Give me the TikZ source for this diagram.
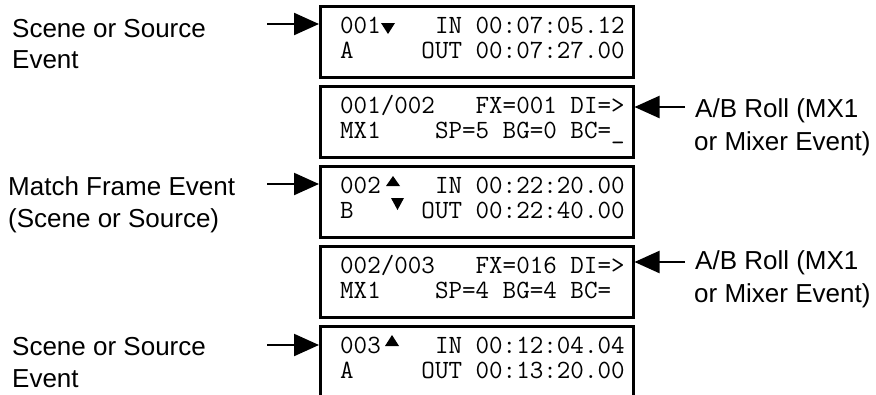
\documentclass[tikz,border=0pt]{standalone}
\usepackage{fontspec}
\setmainfont{Liberation Sans}
\usetikzlibrary{arrows.meta}
\begin{document}
\frenchspacing
\begin{tikzpicture}[x=1pt,y=-1pt,
  lcdbox/.style={draw, line width=2.5pt, minimum width=313pt, minimum height=71pt, inner sep=0pt, anchor=north west},
  lcdtext/.style={font=\ttfamily\fontsize{26.3}{28}\selectfont, anchor=base west, inner sep=0pt},
  lbl/.style={font=\fontsize{26}{31}\selectfont, anchor=base west, inner sep=0pt},
  arr/.style={line width=2.2pt, -{Triangle[length=25pt,width=22pt]}},
  tri/.style={fill=black}]
\useasboundingbox (0,0) rectangle (876,394);
\clip (0,0) rectangle (876,394);

% boxes
\node[lcdbox] (b1) at (319,5) {};
\node[lcdbox] (b2) at (319,85) {};
\node[lcdbox] (b3) at (319,165) {};
\node[lcdbox] (b4) at (319,245) {};
\node[lcdbox, minimum height=85pt] (b5) at (319,325) {};

% box texts
\node[lcdtext] (t1a) at (340,33) {001~~~~IN 00:07:05.12};
\node[lcdtext] (t1b) at (340,58) {A~~~~~OUT 00:07:27.00};
\node[lcdtext] (t2a) at (340,113) {001/002~~~FX=001 DI=>};
\node[lcdtext] (t2b) at (340,138) {MX1~~~~SP=5 BG=0 BC=\_};
\node[lcdtext] (t3a) at (340,193) {002~~~~IN 00:22:20.00};
\node[lcdtext] (t3b) at (340,218) {B~~~~~OUT 00:22:40.00};
\node[lcdtext] (t4a) at (340,273) {002/003~~~FX=016 DI=>};
\node[lcdtext] (t4b) at (340,298) {MX1~~~~SP=4 BG=4 BC=};
\node[lcdtext] (t5a) at (340,353) {003~~~~IN 00:12:04.04};
\node[lcdtext] (t5b) at (340,378) {A~~~~~OUT 00:13:20.00};

% triangles
\fill[tri] (381,23) -- (395,23) -- (388,34) -- cycle;
\fill[tri] (386,186) -- (400,186) -- (393,176) -- cycle;
\fill[tri] (391,198) -- (404,198) -- (397.5,210) -- cycle;
\fill[tri] (385,346) -- (399,346) -- (392,335) -- cycle;

% left labels
\node[lbl] (l1a) at (12,37) {Scene or Source};
\node[lbl] (l1b) at (12,68) {Event};
\node[lbl] (l2a) at (8,195) {Match Frame Event};
\node[lbl] (l2b) at (8,227) {(Scene or Source)};
\node[lbl] (l3a) at (12,355) {Scene or Source};
\node[lbl] (l3b) at (12,387) {Event};

% right labels
\node[lbl] (r1a) at (695,117) {A/B Roll (MX1};
\node[lbl] (r1b) at (694,150) {or Mixer Event)};
\node[lbl] (r2a) at (695,269) {A/B Roll (MX1};
\node[lbl] (r2b) at (694,302) {or Mixer Event)};

% arrows
\coordinate (a1) at (267,24);
\coordinate (a3) at (267,184);
\coordinate (a5) at (267,345);
\coordinate (a2) at (685,107);
\coordinate (a4) at (685,262);
\draw[arr] (a1) -- (a1 -| b1.west);
\draw[arr] (a3) -- (a3 -| b3.west);
\draw[arr] (a5) -- (a5 -| b5.west);
\draw[arr] (a2) -- (a2 -| b2.east);
\draw[arr] (a4) -- (a4 -| b4.east);
\end{tikzpicture}
\end{document}
